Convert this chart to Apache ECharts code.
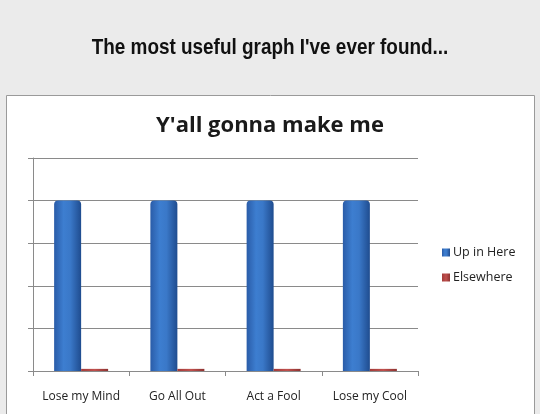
<!DOCTYPE html>
<html><head><meta charset="utf-8">
<script src="https://cdn.jsdelivr.net/npm/echarts@6/dist/echarts.min.js"></script>
<style>html,body{margin:0;padding:0;background:#ebebeb}#c{width:540px;height:414px}</style>
</head><body><div id="c"></div>
<script>
const headline = "The most useful graph I've ever found...";
const chartTitle = "Y'all gonna make me";
const categories = ["Lose my Mind", "Go All Out", "Act a Fool", "Lose my Cool"];
const upInHere = [4, 4, 4, 4];
const elsewhere = [0.05, 0.05, 0.05, 0.05];
const seriesNames = ["Up in Here", "Elsewhere"];

const chart = echarts.init(document.getElementById('c'), null, {renderer: 'canvas'});
const blue = new echarts.graphic.LinearGradient(0, 0, 1, 0, [
  {offset: 0, color: '#2a5ca8'}, {offset: 0.35, color: '#3d7ed0'},
  {offset: 0.6, color: '#3a78c8'}, {offset: 1, color: '#1f4c8f'}]);
const red = new echarts.graphic.LinearGradient(0, 0, 1, 0, [
  {offset: 0, color: '#a33c3a'}, {offset: 0.5, color: '#c0504d'}, {offset: 1, color: '#8e3331'}]);
const font = "'Open Sans','Noto Sans',sans-serif";
chart.setOption({
  backgroundColor: '#ebebeb',
  animation: false,
  graphic: [{
    type: 'rect', z: -10, silent: true,
    shape: {x: 6.5, y: 95.5, width: 528, height: 330},
    style: {fill: '#ffffff', stroke: '#9a9a9a', lineWidth: 1}
  }, {
    type: 'text', silent: true, x: 270, y: 48, scaleX: 0.86, originX: 0, originY: 0,
    style: {text: headline, align: 'center', verticalAlign: 'middle',
      font: "bold 22px 'Liberation Sans', Arial, sans-serif", fill: '#111'}
  }],
  title: [{
    text: chartTitle, left: 'center', top: 110,
    textStyle: {fontFamily: font, fontWeight: 'bold', fontSize: 22, color: '#1a1a1a'}
  }],
  legend: {
    orient: 'vertical', left: 437, top: 241, itemWidth: 8, itemHeight: 8, itemGap: 12,
    icon: 'rect', data: seriesNames,
    textStyle: {fontFamily: font, fontSize: 12.5, color: '#222', padding: [0, 0, 0, -2]}
  },
  grid: {left: 33, right: 122, top: 158, bottom: 43},
  xAxis: {
    type: 'category', data: categories,
    axisLine: {lineStyle: {color: '#8a8a8a'}},
    axisTick: {show: true, length: 5, lineStyle: {color: '#8a8a8a'}},
    axisLabel: {interval: 0, margin: 20, fontSize: 12, color: '#222', fontFamily: font}
  },
  yAxis: {
    type: 'value', min: 0, max: 5, interval: 1,
    axisLine: {show: true, lineStyle: {color: '#8a8a8a'}},
    axisTick: {show: true, length: 5, lineStyle: {color: '#8a8a8a'}},
    axisLabel: {show: false},
    splitLine: {lineStyle: {color: '#8a8a8a'}}
  },
  series: [{
    name: seriesNames[0], type: 'bar', data: upInHere, barWidth: 27, barGap: '0%',
    itemStyle: {color: blue, borderRadius: [4, 4, 0, 0]}
  }, {
    name: seriesNames[1], type: 'bar', data: elsewhere, barWidth: 27,
    itemStyle: {color: red}
  }]
});
</script></body></html>
